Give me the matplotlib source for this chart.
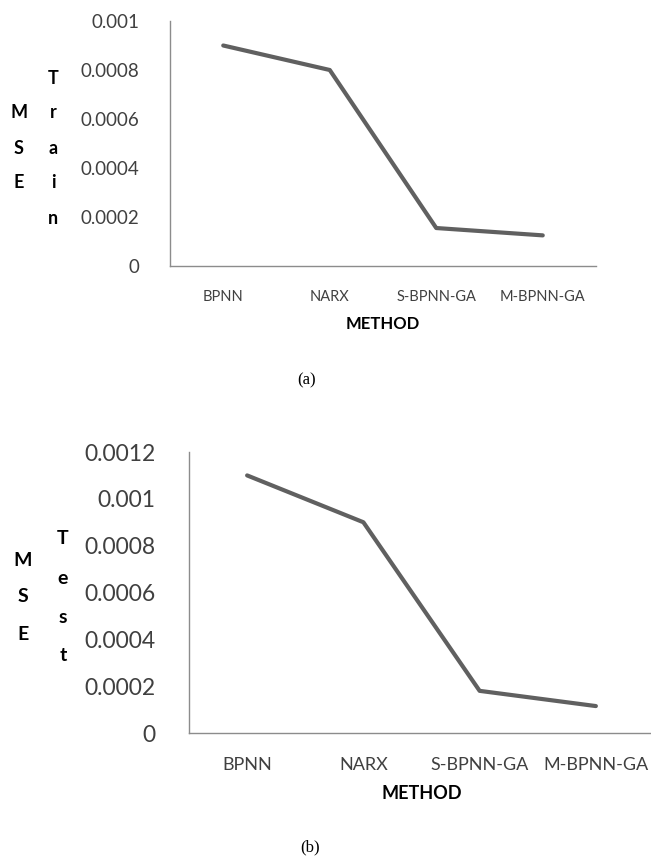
import matplotlib
matplotlib.use("Agg")
import matplotlib.pyplot as plt

methods = ["BPNN", "NARX", "S-BPNN-GA", "M-BPNN-GA"]
mse_train = [0.0009, 0.0008, 0.000155, 0.000125]
mse_test = [0.0011, 0.0009, 0.00018, 0.000115]
train_ticks = [0, 0.0002, 0.0004, 0.0006, 0.0008, 0.001]
train_labels = ["0", "0.0002", "0.0004", "0.0006", "0.0008", "0.001"]
test_ticks = [0, 0.0002, 0.0004, 0.0006, 0.0008, 0.001, 0.0012]
test_labels = ["0", "0.0002", "0.0004", "0.0006", "0.0008", "0.001", "0.0012"]

W, H = 651, 863
SANS = "Lato"
LINE_C = "#606060"
AXIS_C = "#8c8c8c"


def px_axes(fig, left, top, right, bottom):
    return fig.add_axes([left / W, 1 - bottom / H, (right - left) / W, (bottom - top) / H])


def stacked(fig, x, ys, letters, size):
    for y, ch in zip(ys, letters):
        fig.text(x / W, 1 - y / H, ch, ha="center", va="center",
                 fontsize=size, fontweight="bold", family=SANS)


def draw(ax, values, ticks, labels, ymax, ytick_size, xtick_size, ypad):
    x = range(len(methods))
    ax.plot(x, values, color=LINE_C, lw=3, solid_capstyle="round")
    ax.set_xlim(-0.5, len(methods) - 0.5)
    ax.set_ylim(0, ymax)
    ax.set_yticks(ticks)
    ax.set_yticklabels(labels, fontsize=ytick_size, family=SANS, color="#404040")
    ax.set_xticks(list(x))
    ax.set_xticklabels(methods, fontsize=xtick_size, family=SANS, color="#404040")
    ax.tick_params(length=0, axis="y", pad=ypad)
    ax.tick_params(length=0, axis="x", pad=17)
    for s in ["top", "right"]:
        ax.spines[s].set_visible(False)
    for s in ["left", "bottom"]:
        ax.spines[s].set_color(AXIS_C)
        ax.spines[s].set_linewidth(1)


fig = plt.figure(figsize=(W / 100, H / 100), dpi=100)

# (a) training error
ax1 = px_axes(fig, 170, 21, 596, 266)
draw(ax1, mse_train, train_ticks, train_labels, 0.001, 13.5, 10.5, 22)
ax1.set_xlabel("METHOD", fontsize=12, fontweight="bold", family=SANS, labelpad=9)
stacked(fig, 19, [113, 148, 183], "MSE", 13)
stacked(fig, 53, [78, 113, 148, 183, 218], "Train", 13)
fig.text(307 / W, 1 - 380 / H, "(a)", ha="center", va="center",
         fontsize=12, family="Liberation Serif")

# (b) testing error
ax2 = px_axes(fig, 189, 452, 654, 733)
draw(ax2, mse_test, test_ticks, test_labels, 0.0012, 16.5, 13, 24)
ax2.set_xlabel("METHOD", fontsize=13, fontweight="bold", family=SANS, labelpad=9)
stacked(fig, 23, [560, 597, 635], "MSE", 14)
stacked(fig, 63, [538, 578, 617, 655], "Test", 14)
fig.text(310 / W, 1 - 847 / H, "(b)", ha="center", va="center",
         fontsize=12, family="Liberation Serif")

fig.savefig("out.png", dpi=100)
